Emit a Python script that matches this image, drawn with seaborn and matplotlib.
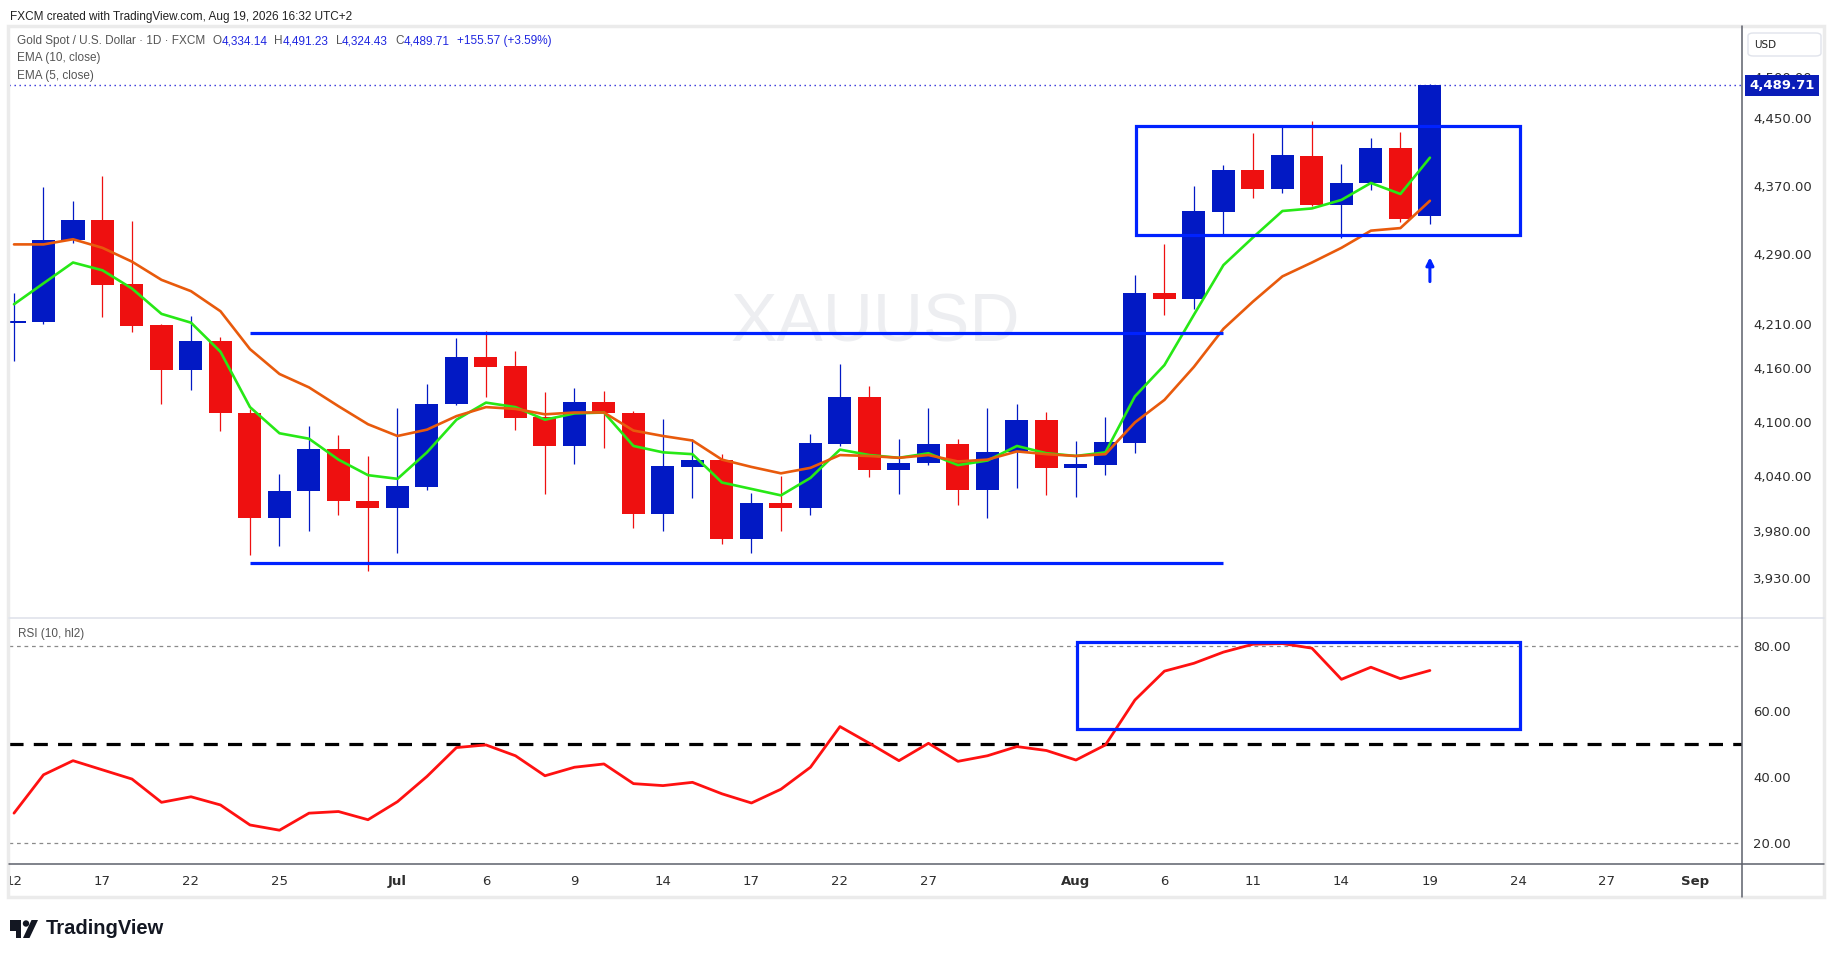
import numpy as np
import pandas as pd
import matplotlib
matplotlib.use("Agg")
import matplotlib.pyplot as plt
import matplotlib.ticker as mticker
import matplotlib.transforms as mtrans
from matplotlib.patches import Rectangle, Polygon, Circle, FancyBboxPatch
from matplotlib.lines import Line2D
import seaborn as sns

# ---------------- data (daily bars, Jun 12 - Aug 19, 2026) ----------------
open_ = [4211, 4212, 4306, 4329, 4255, 4208, 4158, 4190, 4110, 3995, 4024, 4070, 4013, 4005,
         4028, 4120, 4172, 4162, 4105, 4073, 4122, 4110, 3999, 4050, 4058, 3972, 4011, 4005,
         4075, 4127, 4047, 4054, 4075, 4025, 4066, 4102, 4049, 4052, 4076, 4245, 4238, 4339,
         4388, 4366, 4405, 4347, 4373, 4414, 4334.14]
high = [4245, 4368, 4352, 4381, 4328, 4210, 4219, 4195, 4114, 4042, 4095, 4085, 4062, 4115,
        4142, 4194, 4202, 4179, 4133, 4137, 4134, 4112, 4103, 4081, 4064, 4022, 4040, 4086,
        4164, 4139, 4081, 4115, 4081, 4115, 4120, 4111, 4079, 4105, 4266, 4302, 4370, 4394,
        4433, 4440, 4447, 4395, 4427, 4434, 4491.23]
low = [4168, 4210, 4303, 4217, 4200, 4120, 4135, 4090, 3955, 3964, 3981, 3998, 3938, 3957,
       4025, 4118, 4127, 4091, 4020, 4053, 4071, 3984, 3981, 4016, 3966, 3957, 3980, 3998,
       4073, 4039, 4020, 4052, 4009, 3994, 4027, 4019, 4017, 4041, 4065, 4220, 4227, 4313,
       4355, 4361, 4346, 4309, 4365, 4327, 4324.43]
close = [4213, 4306, 4329, 4254, 4207, 4158, 4190, 4110, 3995, 4024, 4070, 4013, 4005, 4029,
         4120, 4172, 4161, 4104, 4073, 4122, 4110, 3999, 4051, 4058, 3972, 4011, 4005, 4076,
         4127, 4047, 4054, 4075, 4025, 4066, 4102, 4049, 4053, 4077, 4245, 4238, 4340, 4388,
         4366, 4406, 4347, 4373, 4414, 4331, 4489.71]
ema5 = [4232, 4256, 4280, 4271, 4250, 4221, 4211, 4178, 4116, 4087, 4081, 4058, 4041, 4037,
        4066, 4102, 4121, 4116, 4102, 4109, 4110, 4073, 4066, 4064, 4033, 4026, 4019, 4038,
        4069, 4063, 4060, 4065, 4052, 4057, 4073, 4065, 4062, 4066, 4128, 4163, 4220, 4277,
        4309, 4340, 4343, 4353, 4373, 4360, 4403]
ema10 = [4301, 4301, 4307, 4297, 4281, 4260, 4247, 4224, 4181, 4153, 4138, 4117, 4097, 4084,
         4091, 4106, 4116, 4114, 4108, 4110, 4110, 4090, 4084, 4079, 4058, 4050, 4043, 4049,
         4063, 4062, 4060, 4063, 4056, 4058, 4067, 4064, 4062, 4064, 4099, 4124, 4161, 4204,
         4235, 4264, 4280, 4297, 4317, 4320, 4352]
rsi = [29, 40.7, 45, 42.2, 39.4, 32.3, 34, 31.5, 25.4, 23.8, 29, 29.5, 27, 32.5,
       40.2, 49, 49.8, 46.5, 40.4, 43, 44, 38, 37.4, 38.4, 34.9, 32.1, 36.3, 43,
       55.4, 50.3, 45, 50.3, 44.8, 46.5, 49.3, 48.1, 45.2, 49.8, 63.5, 72.3, 74.7, 78.1,
       80.5, 80.7, 79.3, 69.8, 73.5, 70, 72.5]

# time-axis labels (bar index -> label)
tick_idx = [0, 3, 6, 9, 13, 16, 19, 22, 25, 28, 31, 36, 39, 42, 45, 48, 51, 54, 57]
tick_lab = ["12", "17", "22", "25", "Jul", "6", "9", "14", "17", "22", "27", "Aug",
            "6", "11", "14", "19", "24", "27", "Sep"]
price_ticks = [3930, 3980, 4040, 4100, 4160, 4210, 4290, 4370, 4450, 4500]
rsi_ticks = [20, 40, 60, 80]

# drawings
resistance, support = 4199, 3946
range_x = (8, 41)
price_box = (38.03, 51.07, 4312, 4441)   # x0, x1, y0, y1
rsi_box = (36.03, 51.07, 54.7, 81.2)
arrow_x, arrow_from, arrow_to = 48, 4258, 4286

# ---------------- style ----------------
BLUE = "#0219C4"
RED = "#EE1010"
GREEN = "#27E816"
ORANGE = "#E85A0C"
DRAW = "#0022FF"
RSI_RED = "#FF1111"
TXT = "#2E2E2E"

W, H = 1835, 959
sns.set_theme(style="white")
plt.rcParams["font.family"] = ["DejaVu Sans"]

fig = plt.figure(figsize=(W / 100, H / 100), dpi=100, facecolor="white")


def fx(px):
    return px / W


def fy(py):
    return 1 - py / H


L, R, T, D1, D2, B = 9.4, 1742, 28, 618, 864, 897
ax_p = fig.add_axes([fx(L), fy(D1), fx(R) - fx(L), fy(T) - fy(D1)])
ax_r = fig.add_axes([fx(L), fy(D2), fx(R) - fx(L), fy(D1) - fy(D2)])

n = len(close)
df = pd.DataFrame({"idx": np.arange(n), "open": open_, "high": high, "low": low,
                   "close": close, "ema5": ema5, "ema10": ema10, "rsi": rsi})
up = df["close"] >= df["open"]
cols = np.where(up, BLUE, RED)

# ---------------- price pane ----------------
ax_p.text(0.5, 0.5, "XAUUSD", transform=ax_p.transAxes, ha="center", va="center",
          fontsize=50, color="#EDEEF1", family="Liberation Sans", zorder=0)
ax_p.vlines(df["idx"], df["low"], df["high"], colors=cols, lw=0.9, zorder=2)
ax_p.bar(df["idx"], (df["close"] - df["open"]).abs(),
         bottom=np.minimum(df["open"], df["close"]), width=0.78, color=cols,
         linewidth=0, zorder=3)
sns.lineplot(data=df, x="idx", y="ema5", ax=ax_p, color=GREEN, lw=1.9, zorder=4,
             legend=False, estimator=None, sort=False)
sns.lineplot(data=df, x="idx", y="ema10", ax=ax_p, color=ORANGE, lw=1.9, zorder=4,
             legend=False, estimator=None, sort=False)

ax_p.hlines([resistance, support], range_x[0], range_x[1], color=DRAW, lw=2.3, zorder=5)
ax_p.add_patch(Rectangle((price_box[0], price_box[2]), price_box[1] - price_box[0],
                         price_box[3] - price_box[2], fill=False, ec=DRAW, lw=2.3, zorder=5))
ax_p.annotate("", xy=(arrow_x, arrow_to), xytext=(arrow_x, arrow_from),
              arrowprops=dict(arrowstyle="-|>", color=DRAW, lw=2.2, mutation_scale=11,
                              shrinkA=0, shrinkB=0), zorder=6)
ax_p.axhline(close[-1], color="#2D2DD8", lw=1.0, ls=(0, (1, 2.6)), zorder=1)

ax_p.set_yscale("log")
ax_p.set_xlim(-0.156, 58.58)
ax_p.set_ylim(3888, 4560)
ax_p.set_xlabel("")
ax_p.set_ylabel("")
ax_p.yaxis.tick_right()
ax_p.yaxis.set_major_locator(mticker.FixedLocator(price_ticks))
ax_p.yaxis.set_major_formatter(mticker.FuncFormatter(lambda v, p: f"{v:,.2f}"))
ax_p.yaxis.set_minor_locator(mticker.NullLocator())
ax_p.yaxis.set_minor_formatter(mticker.NullFormatter())
ax_p.tick_params(axis="y", which="both", length=0, pad=8, labelsize=9.5, labelcolor=TXT)
ax_p.tick_params(axis="x", bottom=False, labelbottom=False)
for s in ax_p.spines.values():
    s.set_visible(False)

# last price label
tr = mtrans.blended_transform_factory(fig.transFigure, ax_p.transData)
ax_p.text(fx(1782), close[-1], f"{close[-1]:,.2f}", transform=tr, ha="center", va="center",
          color="white", fontsize=9.5, fontweight="bold", clip_on=False, zorder=10,
          bbox=dict(boxstyle="square,pad=0.32", fc="#0A1DB8", ec="none"))

# ---------------- RSI pane ----------------
ax_r.axhline(80, color="#8A8A8A", lw=0.9, ls=(0, (3, 3)), zorder=1)
ax_r.axhline(20, color="#8A8A8A", lw=0.9, ls=(0, (3, 3)), zorder=1)
ax_r.axhline(50, color="black", lw=2.3, ls=(0, (4.4, 3.2)), zorder=2)
sns.lineplot(data=df, x="idx", y="rsi", ax=ax_r, color=RSI_RED, lw=2.0, zorder=3,
             legend=False, estimator=None, sort=False)
ax_r.add_patch(Rectangle((rsi_box[0], rsi_box[2]), rsi_box[1] - rsi_box[0],
                         rsi_box[3] - rsi_box[2], fill=False, ec=DRAW, lw=2.3, zorder=5))
ax_r.set_xlim(-0.156, 58.58)
ax_r.set_ylim(13.5, 88.5)
ax_r.set_xlabel("")
ax_r.set_ylabel("")
ax_r.yaxis.tick_right()
ax_r.set_yticks(rsi_ticks)
ax_r.yaxis.set_major_formatter(mticker.FuncFormatter(lambda v, p: f"{v:.2f}"))
ax_r.tick_params(axis="y", length=0, pad=8, labelsize=9.5, labelcolor=TXT)
ax_r.set_xticks(tick_idx)
ax_r.set_xticklabels(tick_lab)
ax_r.tick_params(axis="x", length=0, pad=8, labelsize=9.5, labelcolor=TXT)
for lbl in ax_r.get_xticklabels():
    if lbl.get_text() in ("Jul", "Aug", "Sep"):
        lbl.set_fontweight("bold")
    lbl.set_clip_on(True)
    lbl.set_clip_box(mtrans.Bbox.from_extents(L, 0, W, H))
for s in ax_r.spines.values():
    s.set_visible(False)

# ---------------- frame / separators ----------------
fig.add_artist(Rectangle((fx(L - 1), fy(B)), fx(1824) - fx(L - 1), fy(T - 2) - fy(B),
                         transform=fig.transFigure, fill=False, ec="#EBEBEB", lw=2.5))
fig.add_artist(Line2D([fx(L), fx(1824)], [fy(D1), fy(D1)], color="#E0E3EB", lw=1.2))
fig.add_artist(Line2D([fx(R), fx(R)], [fy(T - 2), fy(B)], color="#5D606B", lw=1.1))
fig.add_artist(Line2D([fx(L), fx(1824)], [fy(D2), fy(D2)], color="#5D606B", lw=1.1))
fig.add_artist(FancyBboxPatch((fx(1748), fy(56)), fx(1821) - fx(1748), fy(33) - fy(56),
                              boxstyle="round,pad=0,rounding_size=0.003",
                              transform=fig.transFigure, fc="white", ec="#E0E3EB", lw=1))
fig.text(fx(1754), fy(44.5), "USD", fontsize=7.5, color="#222", va="center", ha="left")

# ---------------- texts ----------------
fig.text(fx(9.6), fy(17), "FXCM created with TradingView.com, Aug 19, 2026 16:32 UTC+2",
         fontsize=8.5, color="#222", va="center", ha="left", family="Liberation Sans")

renderer = fig.canvas.get_renderer()


def put_seq(x_px, y_px, parts, size):
    x = x_px
    for s, c, gap in parts:
        t = fig.text(fx(x), fy(y_px), s, color=c, fontsize=size, va="center", ha="left",
                     family="Liberation Sans")
        x += t.get_window_extent(renderer).width + gap


LG = "#555555"
LB = "#2027E0"
o, h, l, c = open_[-1], high[-1], low[-1], close[-1]
chg = c - close[-2] if False else c - o
put_seq(17, 41, [("Gold Spot / U.S. Dollar · 1D · FXCM", LG, 7),
                 ("O", LG, 0), (f"{o:,.2f}", LB, 7),
                 ("H", LG, 0), (f"{h:,.2f}", LB, 7),
                 ("L", LG, 0), (f"{l:,.2f}", LB, 7),
                 ("C", LG, 0), (f"{c:,.2f}", LB, 7),
                 ("+155.57 (+3.59%)", LB, 0)], 8.5)
fig.text(fx(17), fy(58.5), "EMA (10, close)", fontsize=8.5, color=LG, va="center",
         family="Liberation Sans")
fig.text(fx(17), fy(76), "EMA (5, close)", fontsize=8.5, color=LG, va="center",
         family="Liberation Sans")
fig.text(fx(18), fy(634), "RSI (10, hl2)", fontsize=8.5, color=LG, va="center",
         family="Liberation Sans")

# TradingView logo
ax_logo = fig.add_axes([fx(10), fy(938), fx(42) - fx(10), fy(920) - fy(938)])
ax_logo.set_xlim(0, 32)
ax_logo.set_ylim(0, 18)
ax_logo.axis("off")
ax_logo.add_patch(Polygon([(0, 12), (11, 12), (11, 0), (6, 0), (6, 7.5), (0, 7.5)],
                          closed=True, fc="#131722", ec="none"))
ax_logo.add_patch(Polygon([(0, 12), (11, 12), (11, 18), (0, 18)], closed=True,
                          fc="#131722", ec="none"))
ax_logo.add_patch(Circle((16, 14.5), 3.2, fc="#131722", ec="none"))
ax_logo.add_patch(Polygon([(13, 0), (19.5, 0), (28, 18), (21.5, 18)], closed=True,
                          fc="#131722", ec="none"))
fig.text(fx(46), fy(929), "TradingView", fontsize=14.5, fontweight="bold", color="#131722",
         va="center", ha="left", family="Liberation Sans")

fig.savefig("out.png", dpi=100, facecolor="white")
